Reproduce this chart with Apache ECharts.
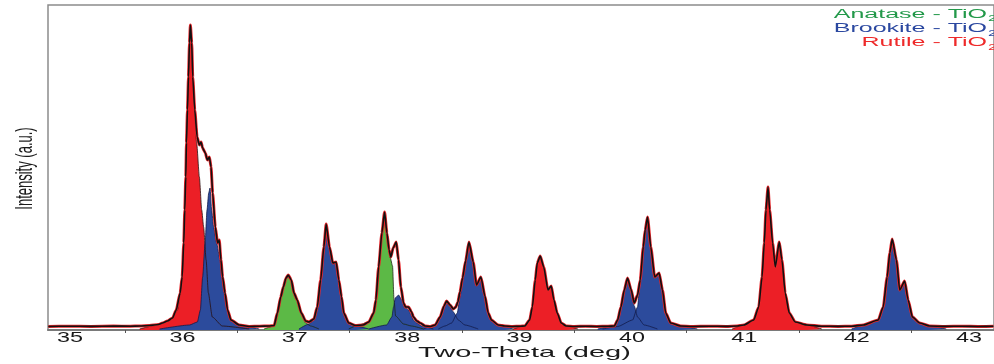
<!DOCTYPE html>
<html>
<head>
<meta charset="utf-8">
<script src="https://cdn.jsdelivr.net/npm/echarts@6/dist/echarts.min.js"></script>
<style>
  html, body { margin: 0; padding: 0; background: #fff; }
  #chart { width: 994px; height: 364px; }
</style>
</head>
<body>
<div id="chart"></div>
<script>
// X-ray diffraction pattern of a TiO2 sample: rutile, brookite and anatase contributions.

const tickLabels = [35, 36, 37, 38, 39, 40, 41, 42, 43];
const minorTicks = [35.5, 36.5, 37.5, 38.5, 39.5, 40.5, 41.5, 42.5];

const phaseNames = ['Anatase - TiO', 'Brookite - TiO', 'Rutile - TiO'];

// Observed profile [2θ, intensity]
const observed = [
  [34.82, 3.5], [35.0, 3.8], [35.2, 3.6], [35.4, 3.9], [35.55, 3.8], [35.633, 4], [35.721, 4.5],
  [35.80, 5.5], [35.836, 7], [35.88, 9], [35.925, 12], [35.958, 20], [35.993, 37], [36.011, 53],
  [36.025, 87], [36.034, 120], [36.043, 153], [36.049, 187], [36.058, 220], [36.067, 253],
  [36.076, 287], [36.084, 305], [36.096, 287], [36.105, 253], [36.123, 220], [36.144, 193],
  [36.164, 185], [36.179, 188], [36.193, 182], [36.217, 177], [36.235, 170], [36.253, 173],
  [36.268, 163], [36.282, 137], [36.306, 103], [36.326, 87], [36.341, 90], [36.356, 70],
  [36.371, 53], [36.392, 37], [36.415, 20], [36.445, 10], [36.519, 5], [36.607, 3.5],
  [36.70, 3.8], [36.78, 4], [36.829, 4.5], [36.858, 17], [36.888, 33], [36.911, 43],
  [36.935, 52], [36.955, 55], [36.982, 50], [37.006, 37], [37.035, 30], [37.071, 17],
  [37.110, 9], [37.139, 8], [37.183, 11], [37.213, 23], [37.243, 50], [37.272, 83],
  [37.292, 106], [37.322, 83], [37.352, 67], [37.381, 68], [37.405, 50], [37.429, 33],
  [37.449, 17], [37.493, 7], [37.553, 4.5], [37.62, 5], [37.671, 8], [37.715, 17], [37.735, 30],
  [37.759, 63], [37.788, 97], [37.812, 118], [37.833, 97], [37.852, 80], [37.868, 73],
  [37.888, 82], [37.916, 88], [37.936, 70], [37.957, 43], [37.981, 27], [37.999, 23],
  [38.025, 23], [38.052, 18], [38.069, 13], [38.099, 9], [38.129, 7], [38.173, 4],
  [38.22, 3.5], [38.262, 5], [38.306, 13], [38.341, 24], [38.364, 29], [38.395, 25],
  [38.424, 21], [38.446, 23], [38.464, 28], [38.483, 38], [38.506, 52], [38.533, 69],
  [38.563, 88], [38.601, 68], [38.630, 45], [38.669, 53], [38.705, 34], [38.734, 17],
  [38.763, 10], [38.823, 5], [38.882, 4], [38.95, 3.5], [39.02, 3.8], [39.059, 4],
  [39.103, 10], [39.127, 23], [39.153, 50], [39.171, 67], [39.197, 74], [39.228, 63],
  [39.266, 40], [39.295, 44], [39.319, 30], [39.348, 17], [39.384, 7], [39.428, 4],
  [39.5, 3.5], [39.6, 3.8], [39.7, 3.5], [39.8, 3.8], [39.857, 4], [39.886, 10], [39.915, 23],
  [39.945, 40], [39.974, 52], [40.004, 41], [40.034, 27], [40.063, 35], [40.087, 50],
  [40.114, 83], [40.131, 100], [40.152, 113], [40.181, 83], [40.216, 53], [40.255, 57],
  [40.285, 40], [40.314, 17], [40.358, 7], [40.447, 4], [40.55, 3.5], [40.7, 3.8],
  [40.85, 3.6], [40.95, 4], [41.009, 5], [41.097, 10], [41.141, 23], [41.171, 53],
  [41.191, 87], [41.206, 120], [41.224, 143], [41.239, 120], [41.265, 87], [41.289, 63],
  [41.324, 88], [41.348, 70], [41.377, 37], [41.413, 17], [41.466, 8], [41.569, 5],
  [41.70, 3.8], [41.85, 3.6], [41.968, 3.8], [42.072, 5], [42.205, 10], [42.249, 23],
  [42.284, 53], [42.308, 77], [42.329, 91], [42.367, 70], [42.396, 40], [42.440, 49],
  [42.471, 30], [42.509, 13], [42.574, 7], [42.662, 4], [42.8, 3.6], [42.95, 3.8],
  [43.1, 3.5], [43.23, 3.7]
];

// Rutile reflections
const rutile1 = [
  [35.633, 1], [35.748, 4], [35.836, 7], [35.925, 12], [35.969, 20], [35.993, 35], [36.011, 53],
  [36.025, 87], [36.034, 120], [36.043, 153], [36.049, 187], [36.058, 220], [36.067, 253],
  [36.076, 287], [36.084, 304], [36.096, 287], [36.105, 253], [36.120, 220], [36.140, 187],
  [36.164, 153], [36.185, 120], [36.202, 103], [36.224, 70], [36.244, 37], [36.279, 13],
  [36.368, 4], [36.607, 1]
];
const rutile2 = [
  [38.955, 1], [39.059, 4], [39.103, 10], [39.127, 23], [39.153, 50], [39.171, 67], [39.197, 74],
  [39.228, 63], [39.266, 40], [39.295, 44], [39.319, 30], [39.348, 17], [39.384, 7],
  [39.428, 4], [39.532, 1]
];
const rutile3 = [
  [40.905, 1], [41.009, 5], [41.097, 10], [41.141, 23], [41.171, 53], [41.191, 87], [41.206, 120],
  [41.224, 143], [41.239, 120], [41.265, 87], [41.289, 63], [41.324, 88], [41.348, 70],
  [41.377, 37], [41.413, 17], [41.466, 8], [41.569, 5], [41.702, 1]
];

// Anatase reflections
const anatase1 = [
  [36.740, 1], [36.829, 4], [36.858, 17], [36.888, 33], [36.911, 43], [36.935, 52], [36.955, 55],
  [36.982, 50], [37.006, 37], [37.035, 30], [37.071, 17], [37.110, 7], [37.154, 4], [37.228, 1]
];
const anatase2 = [
  [37.493, 1], [37.582, 5], [37.671, 8], [37.715, 17], [37.735, 30], [37.759, 63], [37.788, 97],
  [37.812, 118], [37.833, 97], [37.863, 72], [37.883, 64], [37.896, 30], [37.910, 14],
  [37.981, 6], [38.052, 4], [38.158, 1]
];

// Brookite reflections
const brookite1 = [
  [35.810, 1], [36.076, 5], [36.146, 8], [36.173, 20], [36.193, 53], [36.215, 87], [36.232, 120],
  [36.247, 137], [36.259, 142], [36.273, 120], [36.291, 103], [36.318, 87], [36.348, 70],
  [36.365, 53], [36.386, 37], [36.410, 20], [36.439, 10], [36.519, 5], [36.696, 1]
];
const brookite2 = [
  [37.050, 1], [37.139, 6], [37.183, 10], [37.213, 23], [37.243, 50], [37.272, 83], [37.292, 106],
  [37.322, 83], [37.352, 67], [37.381, 68], [37.405, 50], [37.429, 33], [37.449, 17],
  [37.493, 7], [37.553, 4], [37.671, 1]
];
const brookite3 = [
  [37.671, 1], [37.830, 5], [37.877, 13], [37.892, 23], [37.907, 32], [37.936, 35], [37.966, 30],
  [37.996, 23], [38.025, 20], [38.049, 15], [38.069, 10], [38.099, 7], [38.143, 4], [38.246, 1]
];
const brookite4 = [
  [38.158, 1], [38.262, 5], [38.306, 13], [38.341, 23], [38.364, 28], [38.395, 23], [38.424, 18],
  [38.468, 10], [38.527, 5], [38.645, 1]
];
const brookite5 = [
  [38.291, 1], [38.350, 4], [38.409, 7], [38.459, 17], [38.483, 33], [38.506, 50], [38.533, 67],
  [38.563, 87], [38.601, 67], [38.630, 44], [38.669, 52], [38.705, 33], [38.734, 17],
  [38.763, 10], [38.823, 5], [38.882, 4], [38.955, 1]
];
const brookite6 = [
  [39.709, 1], [39.857, 4], [39.886, 10], [39.915, 23], [39.945, 40], [39.974, 52], [40.004, 40],
  [40.034, 24], [40.063, 13], [40.122, 5], [40.240, 1]
];
const brookite7 = [
  [39.753, 1], [39.886, 3.5], [40.019, 10], [40.063, 23], [40.087, 50], [40.114, 83], [40.131, 100],
  [40.152, 113], [40.181, 83], [40.216, 53], [40.255, 57], [40.285, 40], [40.314, 17],
  [40.358, 7], [40.447, 4], [40.595, 1]
];
const brookite8 = [
  [41.968, 1], [42.072, 5], [42.205, 10], [42.249, 23], [42.284, 53], [42.308, 77], [42.329, 91],
  [42.367, 70], [42.396, 40], [42.440, 49], [42.471, 30], [42.509, 13], [42.574, 7],
  [42.662, 4], [42.810, 1]
];

const RED = '#ec1f26';
const BLUE = '#2c4b9c';
const GREEN = '#5cb946';

function phaseArea(data, color, edge) {
  return {
    type: 'line',
    data: data,
    symbol: 'none',
    smooth: 0.2,
    smoothMonotone: 'x',
    silent: true,
    lineStyle: { color: edge, width: 0.8 },
    areaStyle: { color: color, opacity: 1 }
  };
}

const chart = echarts.init(document.getElementById('chart'), null, { renderer: 'canvas' });

const series = [];
[rutile1, rutile2, rutile3].forEach(d => series.push(phaseArea(d, RED, '#2a1010')));
[anatase1, anatase2].forEach(d => series.push(phaseArea(d, GREEN, '#1c2a14')));
[brookite1, brookite2, brookite3, brookite4, brookite5, brookite6, brookite7, brookite8]
  .forEach(d => series.push(phaseArea(d, BLUE, '#131c4a')));
// measured trace underneath, fitted trace on top
series.push({
  type: 'line', data: observed, symbol: 'none', smooth: 0.2, smoothMonotone: 'x', silent: true,
  lineStyle: { color: '#e8262a', width: 3 }
});
series.push({
  type: 'line', data: observed, symbol: 'none', smooth: 0.2, smoothMonotone: 'x', silent: true,
  lineStyle: { color: '#111111', width: 1.6 }
});

chart.setOption({
  animation: false,
  backgroundColor: '#ffffff',
  grid: {
    left: 48, top: 5, width: 950, height: 325,
    show: true, borderColor: '#8c8c8c', borderWidth: 1.5, backgroundColor: 'transparent'
  },
  xAxis: {
    type: 'value',
    min: 34.817,
    max: 43.235,
    axisLine: { show: true, onZero: false, lineStyle: { color: '#7a7a7a', width: 2 } },
    axisTick: {
      show: true, inside: false, length: 3, customValues: minorTicks,
      lineStyle: { color: '#555555', width: 1 }
    },
    axisLabel: { show: false },
    splitLine: { show: false }
  },
  yAxis: {
    type: 'value',
    min: 0,
    max: 325,
    axisLine: { show: false },
    axisTick: { show: false },
    axisLabel: { show: false },
    splitLine: { show: false }
  },
  series: series
});

// Text is drawn horizontally widened, as on the instrument printout.
const graphics = [];
tickLabels.forEach(v => {
  const px = chart.convertToPixel({ xAxisIndex: 0 }, v);
  graphics.push({
    type: 'text', x: px + 1.5, y: 338.5, scaleX: 1.67, silent: true,
    style: {
      text: String(v), font: '14px "Liberation Sans", Arial, sans-serif', fill: '#1a1a1a',
      align: 'center', verticalAlign: 'middle', textAlign: 'center', textVerticalAlign: 'middle'
    }
  });
});
graphics.push({
  type: 'text', x: 524.5, y: 352.5, scaleX: 2.0, silent: true,
  style: {
    text: 'Two-Theta (deg)', font: '14.5px "Liberation Sans", Arial, sans-serif', fill: '#1a1a1a',
    align: 'center', verticalAlign: 'middle', textAlign: 'center', textVerticalAlign: 'middle'
  }
});
graphics.push({
  type: 'text', x: 25.5, y: 168.5, rotation: Math.PI / 2, scaleY: 1.9, silent: true,
  style: {
    text: 'Intensity (a.u.)', font: '13px "Liberation Sans", Arial, sans-serif', fill: '#1a1a1a',
    align: 'center', verticalAlign: 'middle', textAlign: 'center', textVerticalAlign: 'middle'
  }
});
const legendColors = ['#23994a', '#2b48a0', '#ee2a2a'];
const legendY = [14.5, 28.7, 42.8];
phaseNames.forEach((name, i) => {
  graphics.push({
    type: 'text', x: 987, y: legendY[i], scaleX: 2.0, silent: true,
    style: {
      text: name, font: '12.5px "Liberation Sans", Arial, sans-serif', fill: legendColors[i],
      align: 'right', verticalAlign: 'middle', textAlign: 'right', textVerticalAlign: 'middle'
    }
  });
  graphics.push({
    type: 'text', x: 988, y: legendY[i] + 4.5, scaleX: 1.8, silent: true,
    style: {
      text: '2', font: '9px "Liberation Sans", Arial, sans-serif', fill: legendColors[i],
      align: 'left', verticalAlign: 'middle', textAlign: 'left', textVerticalAlign: 'middle'
    }
  });
});
chart.setOption({ graphic: graphics });
</script>
</body>
</html>
